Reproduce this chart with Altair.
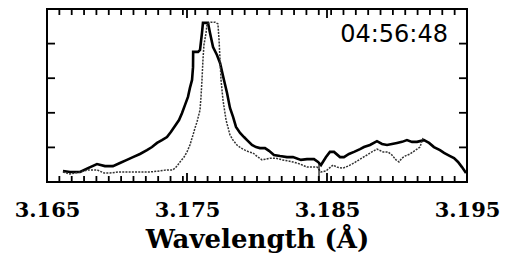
import altair as alt
import pandas as pd
import numpy as np

# Solid (thick) spectrum
wl_solid = [3.16614, 3.16664, 3.16736, 3.16793, 3.16857, 3.16914, 3.16971, 3.17021, 3.17071, 3.17114,
            3.17164, 3.17214, 3.17250, 3.17286, 3.17321, 3.17357, 3.17386, 3.17414, 3.17443, 3.17464,
            3.17486, 3.17507, 3.17521, 3.17536, 3.17543, 3.17544, 3.17579, 3.17593, 3.17607, 3.17614,
            3.17650, 3.17664, 3.17686, 3.17714, 3.17736, 3.17764, 3.17786, 3.17807, 3.17829, 3.17850,
            3.17879, 3.17907, 3.17929, 3.17964, 3.17993, 3.18021, 3.18057, 3.18086, 3.18121, 3.18164,
            3.18214, 3.18257, 3.18314, 3.18357, 3.18407, 3.18436, 3.18457, 3.18493, 3.18521, 3.18550,
            3.18593, 3.18621, 3.18657, 3.18693, 3.18736, 3.18764, 3.18807, 3.18857, 3.18893, 3.18929,
            3.18964, 3.19000, 3.19036, 3.19071, 3.19107, 3.19143, 3.19193, 3.19229, 3.19264, 3.19307,
            3.19336, 3.19379, 3.19407, 3.19436, 3.19464, 3.19493]
int_solid = [0.32, 0.29, 0.29, 0.40, 0.52, 0.46, 0.46, 0.55, 0.64, 0.72,
             0.81, 0.92, 1.01, 1.13, 1.21, 1.30, 1.45, 1.62, 1.79, 1.99,
             2.23, 2.46, 2.72, 2.95, 3.32, 3.76, 3.76, 3.82, 4.31, 4.60,
             4.60, 4.31, 3.90, 3.67, 3.44, 2.95, 2.57, 2.14, 1.88, 1.59,
             1.42, 1.30, 1.21, 1.07, 1.01, 0.98, 0.98, 0.90, 0.78, 0.75,
             0.72, 0.72, 0.64, 0.66, 0.66, 0.58, 0.49, 0.72, 0.87, 0.87,
             0.72, 0.72, 0.81, 0.87, 0.95, 1.01, 1.07, 1.18, 1.10, 1.07,
             1.10, 1.13, 1.16, 1.21, 1.16, 1.16, 1.21, 1.13, 1.01, 0.92,
             0.84, 0.75, 0.69, 0.58, 0.43, 0.26]

# Dotted (thin) spectrum
wl_dot = [3.16614, 3.16664, 3.16736, 3.16793, 3.16857, 3.16907, 3.16950, 3.17007, 3.17071, 3.17164,
          3.17236, 3.17307, 3.17357, 3.17400, 3.17429, 3.17450, 3.17479, 3.17500, 3.17521, 3.17543,
          3.17557, 3.17571, 3.17593, 3.17600, 3.17607, 3.17614, 3.17621, 3.17636, 3.17643, 3.17671,
          3.17700, 3.17721, 3.17729, 3.17736, 3.17743, 3.17757, 3.17779, 3.17807, 3.17829, 3.17857,
          3.17886, 3.17914, 3.17943, 3.17971, 3.18007, 3.18036, 3.18064, 3.18093, 3.18136, 3.18179,
          3.18221, 3.18257, 3.18307, 3.18357, 3.18393, 3.18429, 3.18457, 3.18493, 3.18543, 3.18571,
          3.18614, 3.18650, 3.18693, 3.18736, 3.18786, 3.18821, 3.18857, 3.18900, 3.18936, 3.18964,
          3.18993, 3.19014, 3.19036, 3.19057, 3.19093, 3.19114, 3.19143, 3.19164, 3.19186]
int_dot = [0.29, 0.23, 0.29, 0.35, 0.35, 0.26, 0.26, 0.29, 0.29, 0.29,
           0.29, 0.32, 0.35, 0.35, 0.46, 0.58, 0.72, 0.87, 1.07, 1.36,
           1.56, 1.73, 2.08, 2.46, 2.95, 3.53, 3.96, 4.31, 4.57, 4.62,
           4.62, 4.57, 4.10, 3.53, 2.95, 2.37, 1.79, 1.36, 1.21, 1.07,
           0.98, 0.92, 0.87, 0.84, 0.72, 0.64, 0.66, 0.69, 0.69, 0.64,
           0.61, 0.58, 0.52, 0.43, 0.43, 0.43, 0.29, 0.32, 0.49, 0.43,
           0.40, 0.46, 0.55, 0.66, 0.78, 0.87, 0.95, 0.87, 0.87, 0.78,
           0.64, 0.58, 0.69, 0.75, 0.81, 0.87, 0.95, 1.01, 1.27]

# Reference marker
marker_wl = [3.18443]
marker_lo = [0.0]
marker_hi = [0.58]

x_major = [3.165, 3.175, 3.185, 3.195]
x_minor = [float(v) for v in np.linspace(3.165, 3.195, 35)]
y_ticks = [1, 2, 3, 4]
time_label = ["04:56:48"]
x_title = "Wavelength (Å)"

solid_df = pd.DataFrame({"wl": wl_solid, "I": int_solid, "i": range(len(wl_solid))})
dot_df = pd.DataFrame({"wl": wl_dot, "I": int_dot, "i": range(len(wl_dot))})
mark_df = pd.DataFrame({"wl": marker_wl, "lo": marker_lo, "hi": marker_hi})
xtick_df = pd.DataFrame({"wl": x_minor[1:-1]})
xmajor_df = pd.DataFrame({"wl": x_major[1:3]})
ytick_df = pd.DataFrame({"I": y_ticks})

xscale = alt.Scale(domain=[3.165, 3.195], nice=False, zero=False)
yscale = alt.Scale(domain=[0, 5], nice=False, zero=True)

solid = alt.Chart(solid_df).mark_line(color="black", strokeWidth=2.6).encode(
    x=alt.X("wl:Q", scale=xscale,
            axis=alt.Axis(values=x_major, format=".3f", orient="bottom", ticks=False,
                          domain=False, grid=False,
                          labelPadding=17, labelFont="DejaVu Serif", labelFontWeight="bold",
                          labelFontSize=21, labelColor="black", labelOverlap=False,
                          labelBound=False, labelFlush=False,
                          title=x_title, titleFont="DejaVu Serif", titleFontWeight="bold",
                          titleFontSize=26, titleColor="black", titlePadding=6)),
    y=alt.Y("I:Q", scale=yscale, axis=None),
    order="i:Q",
)

dotted = alt.Chart(dot_df).mark_line(color="#333333", strokeWidth=1.5, strokeDash=[2, 1.2]).encode(
    x=alt.X("wl:Q", scale=xscale),
    y=alt.Y("I:Q", scale=yscale, axis=None),
    order="i:Q",
)

ticks_bottom = alt.Chart(xtick_df).mark_rule(color="black", strokeWidth=1.8).encode(
    x=alt.X("wl:Q", scale=xscale), y=alt.value(167), y2=alt.value(173),
)
ticks_top = alt.Chart(xtick_df).mark_rule(color="black", strokeWidth=1.8).encode(
    x=alt.X("wl:Q", scale=xscale), y=alt.value(0), y2=alt.value(6),
)
major_bottom = alt.Chart(xmajor_df).mark_rule(color="black", strokeWidth=1.8).encode(
    x=alt.X("wl:Q", scale=xscale), y=alt.value(164), y2=alt.value(173),
)
major_top = alt.Chart(xmajor_df).mark_rule(color="black", strokeWidth=1.8).encode(
    x=alt.X("wl:Q", scale=xscale), y=alt.value(0), y2=alt.value(9),
)
ticks_left = alt.Chart(ytick_df).mark_rule(color="black", strokeWidth=1.8).encode(
    y=alt.Y("I:Q", scale=yscale, axis=None), x=alt.value(0), x2=alt.value(8),
)
ticks_right = alt.Chart(ytick_df).mark_rule(color="black", strokeWidth=1.8).encode(
    y=alt.Y("I:Q", scale=yscale, axis=None), x=alt.value(412), x2=alt.value(420),
)

marker = alt.Chart(mark_df).mark_rule(color="black", strokeWidth=1.2).encode(
    x=alt.X("wl:Q", scale=xscale),
    y=alt.Y("lo:Q", scale=yscale, axis=None),
    y2="hi:Q",
)

label = alt.Chart(pd.DataFrame({"t": time_label})).mark_text(
    align="right", baseline="alphabetic", font="DejaVu Sans", fontSize=24, color="black"
).encode(text="t:N", x=alt.value(401), y=alt.value(33))

chart = alt.layer(solid, dotted, ticks_bottom, ticks_top, major_bottom, major_top,
                  ticks_left, ticks_right, marker, label).properties(
    width=420, height=173,
    autosize=alt.AutoSizeParams(type="none"),
    padding={"left": 39, "top": 1, "right": 33, "bottom": 78},
    background="white",
).configure_view(stroke="black", strokeWidth=2)

chart.save("out.html", embed_options={"renderer": "svg", "actions": False})
